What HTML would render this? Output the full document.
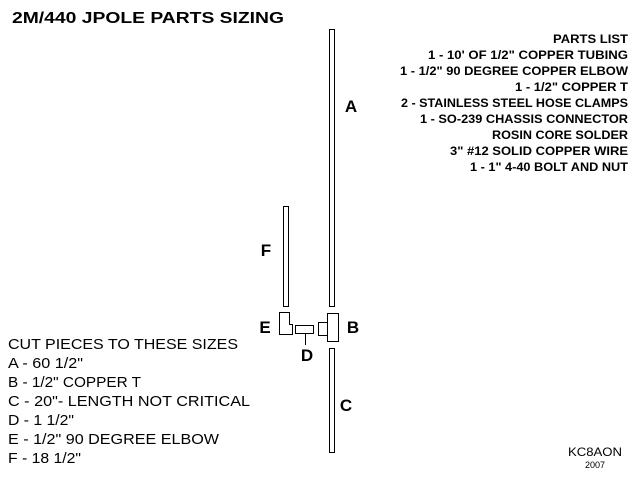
<!DOCTYPE html>
<html><head><style>body{margin:0;background:#fff}svg{display:block}</style></head><body>
<svg width="640" height="480" xmlns="http://www.w3.org/2000/svg" font-family="Liberation Sans, sans-serif">
<rect width="640" height="480" fill="#fff"/>
<text x="12" y="23" font-size="16" font-weight="bold" textLength="272" lengthAdjust="spacingAndGlyphs">2M/440 JPOLE PARTS SIZING</text>
<g font-size="12" font-weight="bold" text-anchor="end">
<text x="628" y="43" textLength="75" lengthAdjust="spacingAndGlyphs">PARTS LIST</text>
<text x="628" y="59" textLength="200" lengthAdjust="spacingAndGlyphs">1 - 10'  OF 1/2" COPPER TUBING</text>
<text x="628" y="75" textLength="228" lengthAdjust="spacingAndGlyphs">1 - 1/2" 90 DEGREE COPPER ELBOW</text>
<text x="628" y="91" textLength="113" lengthAdjust="spacingAndGlyphs">1 - 1/2" COPPER T</text>
<text x="628" y="107" textLength="227" lengthAdjust="spacingAndGlyphs">2 - STAINLESS STEEL HOSE CLAMPS</text>
<text x="628" y="123" textLength="208" lengthAdjust="spacingAndGlyphs">1 - SO-239 CHASSIS CONNECTOR</text>
<text x="628" y="139" textLength="136" lengthAdjust="spacingAndGlyphs">ROSIN CORE SOLDER</text>
<text x="628" y="155" textLength="178" lengthAdjust="spacingAndGlyphs">3" #12 SOLID COPPER WIRE</text>
<text x="628" y="171" textLength="158" lengthAdjust="spacingAndGlyphs">1 - 1" 4-40 BOLT AND NUT</text>
</g>
<g font-size="15">
<text x="8" y="349" textLength="230" lengthAdjust="spacingAndGlyphs">CUT PIECES TO THESE SIZES</text>
<text x="8" y="368" textLength="75" lengthAdjust="spacingAndGlyphs">A - 60 1/2"</text>
<text x="8" y="387" textLength="133" lengthAdjust="spacingAndGlyphs">B - 1/2" COPPER T</text>
<text x="8" y="406" textLength="242" lengthAdjust="spacingAndGlyphs">C - 20"- LENGTH NOT CRITICAL</text>
<text x="8" y="425" textLength="66" lengthAdjust="spacingAndGlyphs">D - 1 1/2"</text>
<text x="8" y="444" textLength="211" lengthAdjust="spacingAndGlyphs">E - 1/2" 90 DEGREE ELBOW</text>
<text x="8" y="463" textLength="73" lengthAdjust="spacingAndGlyphs">F - 18 1/2"</text>
</g>
<g fill="#fff" stroke="#000" stroke-width="1">
<rect x="329.5" y="29.5" width="5" height="277"/>
<rect x="283.5" y="206.5" width="5" height="100"/>
<rect x="329.5" y="348.5" width="5" height="104"/>
<polygon points="279.5,312.5 289.5,312.5 289.5,324.5 292.5,324.5 292.5,334.5 279.5,334.5"/>
<rect x="295.5" y="325.5" width="18" height="8"/>
<rect x="318.5" y="322.5" width="9" height="13"/>
<rect x="327.5" y="313.5" width="11" height="28"/>
<line x1="305.5" y1="334" x2="305.5" y2="345"/>
</g>
<g font-size="17" font-weight="bold" text-anchor="middle">
<text x="351" y="112">A</text>
<text x="266" y="256">F</text>
<text x="265" y="333">E</text>
<text x="353" y="333">B</text>
<text x="307" y="361">D</text>
<text x="346" y="411">C</text>
</g>
<text x="595" y="456" font-size="12" text-anchor="middle" textLength="54" lengthAdjust="spacingAndGlyphs">KC8AON</text>
<text x="595" y="468" font-size="9" text-anchor="middle">2007</text>
</svg>
</body></html>
